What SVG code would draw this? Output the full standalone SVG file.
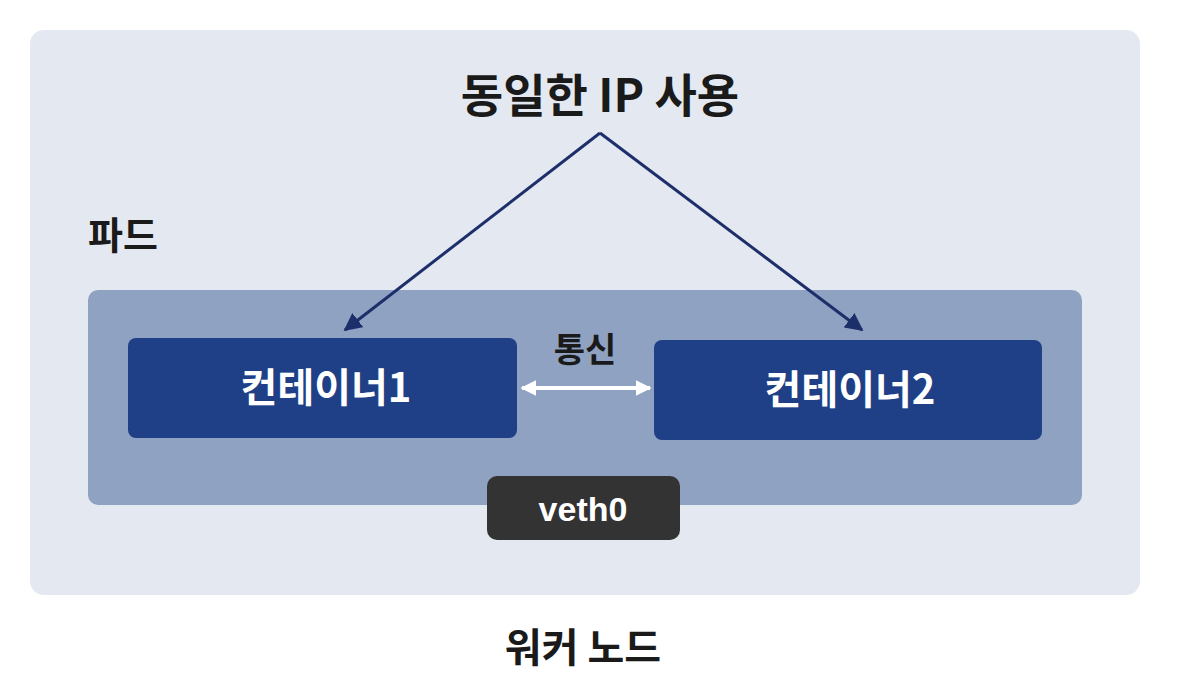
<svg xmlns="http://www.w3.org/2000/svg" width="1192" height="676" viewBox="0 0 1192 676">
<style>
.k{font-family:"Noto Sans CJK KR","Noto Sans",sans-serif;font-weight:700}
.dark{fill:#1a1a1a}
.wt{fill:#ffffff}
.cont{fill:#1f3f86}
.ln{fill:none;stroke:#1d2f6b;stroke-width:3}
</style>
<defs>
<marker id="ah" viewBox="0 0 10 10" refX="9" refY="5" markerWidth="6" markerHeight="6" orient="auto"><path d="M0,0 L10,5 L0,10 z" fill="#1d2f6b"/></marker>
<marker id="wh" viewBox="0 0 10 10" refX="9" refY="5" markerWidth="4" markerHeight="4" orient="auto-start-reverse"><path d="M0,0 L10,5 L0,10 z" fill="#ffffff"/></marker>
</defs>
<rect width="1192" height="676" fill="#ffffff"/>
<g id="worker-node">
<rect x="30" y="30" width="1110" height="565" rx="14" fill="#e4e8f0"/>
<text class="k dark" x="583" y="662" font-size="40" text-anchor="middle">워커 노드</text>
</g>
<g id="pod">
<text class="k dark" x="88" y="249" font-size="38">파드</text>
<rect x="88" y="290" width="994" height="215" rx="10" fill="#8fa2c2"/>
</g>
<g id="title">
<text class="k dark" x="600" y="112" font-size="46" text-anchor="middle">동일한 IP 사용</text>
</g>
<g id="container1">
<rect class="cont" x="128" y="338" width="389" height="100" rx="8"/>
<text class="k wt" x="326" y="402" font-size="40" text-anchor="middle">컨테이너1</text>
</g>
<g id="container2">
<rect class="cont" x="654" y="340" width="388" height="100" rx="8"/>
<text class="k wt" x="850" y="404" font-size="40" text-anchor="middle">컨테이너2</text>
</g>
<g id="veth0">
<rect x="487" y="476" width="193" height="64" rx="10" fill="#333333"/>
<text x="583" y="521" font-family="'Liberation Sans',sans-serif" font-weight="700" font-size="34" fill="#ffffff" text-anchor="middle">veth0</text>
</g>
<g id="connectors">
<line class="ln" x1="600" y1="133" x2="345" y2="330" marker-end="url(#ah)"/>
<line class="ln" x1="600" y1="133" x2="862" y2="330" marker-end="url(#ah)"/>
<line x1="522" y1="388" x2="650" y2="388" stroke="#ffffff" stroke-width="4" marker-start="url(#wh)" marker-end="url(#wh)"/>
<text class="k dark" x="585" y="362" font-size="34" text-anchor="middle">통신</text>
</g>
</svg>
